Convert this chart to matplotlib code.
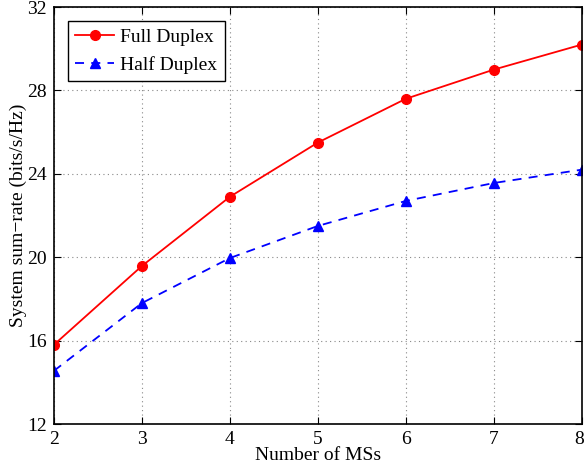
import matplotlib
matplotlib.use('Agg')
import matplotlib.pyplot as plt
from matplotlib.transforms import ScaledTranslation

# data
n_ms = [2, 3, 4, 5, 6, 7, 8]
full_duplex = [15.8, 19.58, 22.9, 25.5, 27.6, 29.0, 30.2]
half_duplex = [14.55, 17.8, 19.96, 21.5, 22.7, 23.56, 24.2]

plt.rcParams['font.family'] = ['Liberation Serif', 'DejaVu Serif']
plt.rcParams['font.size'] = 14

fig = plt.figure(figsize=(5.86, 4.68), dpi=100)
ax = fig.add_axes([0.092, 0.094, 0.901, 0.891])

ax.plot(n_ms, full_duplex, 'r-o', lw=1.3, ms=7, label='Full Duplex')
ax.plot(n_ms, half_duplex, 'b--^', lw=1.3, ms=7, dashes=(5, 4), label='Half Duplex')

ax.set_xlim(2, 8)
ax.set_ylim(12, 32)
ax.set_xticks(range(2, 9))
ax.set_yticks(range(12, 33, 4))
ax.grid(True, ls=(0, (1, 3)), color='#888888', lw=0.8)
ax.tick_params(direction='in', top=True, right=True, length=5, labelsize=14, pad=5)
for s in ax.spines.values():
    s.set_linewidth(1.2)

# keep the last x tick label inside the figure
last = ax.get_xticklabels()[-1]
last.set_transform(last.get_transform() + ScaledTranslation(-3 / 100, 0, fig.dpi_scale_trans))

ax.set_xlabel('Number of MSs', fontsize=14, labelpad=-1)
ax.set_ylabel('System sum\u2212rate (bits/s/Hz)', fontsize=14, labelpad=0)

leg = ax.legend(loc='upper left', fancybox=False, framealpha=1, edgecolor='black',
                fontsize=14, handlelength=2.0, handletextpad=0.3,
                borderaxespad=0.7, labelspacing=0.5)
leg.get_frame().set_linewidth(1.0)

fig.savefig('out.png', dpi=100)
